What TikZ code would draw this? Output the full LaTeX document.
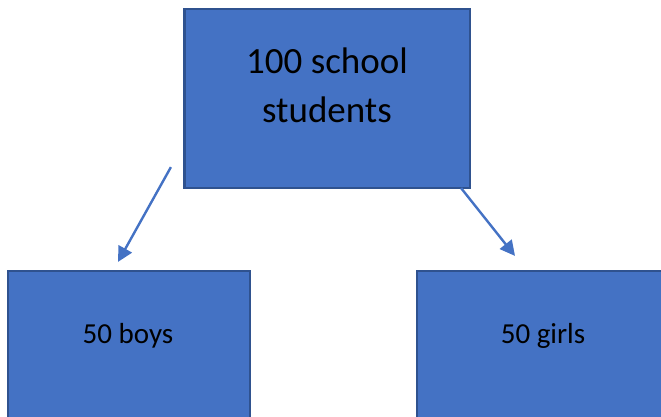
\documentclass[tikz,border=0pt]{standalone}
\usepackage{fontspec}
\setmainfont{Carlito}
\usetikzlibrary{arrows.meta}
\definecolor{boxfill}{HTML}{4472C4}
\definecolor{boxline}{HTML}{2F528F}
\tikzset{
  box/.style={draw=boxline, fill=boxfill, line width=2.2pt, inner sep=0pt},
  bigtext/.style={font=\fontsize{37}{49}\selectfont, align=center, inner sep=0pt, text=black},
  smalltext/.style={font=\fontsize{29}{35}\selectfont, inner sep=0pt, text=black},
  arr/.style={draw=boxfill, line width=2.4pt, -{Triangle[length=15pt,width=15pt]}}
}
\begin{document}
\begin{tikzpicture}[x=1pt,y=-1pt]
  \useasboundingbox (0,0) rectangle (661,416);
  \begin{scope}
    \clip (0,0) rectangle (661,416);
    % boxes
    \node[box, minimum width=285.5pt, minimum height=179pt] (top) at (327.25,98.5) {};
    \node[box, minimum width=242pt, minimum height=160pt] (boys) at (129,351) {};
    \node[box, minimum width=252pt, minimum height=160pt] (girls) at (543,351) {};
    % labels
    \node[bigtext, anchor=base] (toptext) at (327,122) {100 school\\students};
    \node[smalltext, anchor=base] (boystext) at (128,343) {50 boys};
    \node[smalltext, anchor=base] (girlstext) at (543,343) {50 girls};
  \end{scope}
  % connectors
  \draw[arr] ([shift={(-12.5,-22)}]top.south west) -- ([shift={(-11,-8)}]boys.north);
  \draw[arr] ([shift={(-10,-1)}]top.south east) -- ([shift={(-28,-14)}]girls.north);
\end{tikzpicture}
\end{document}
